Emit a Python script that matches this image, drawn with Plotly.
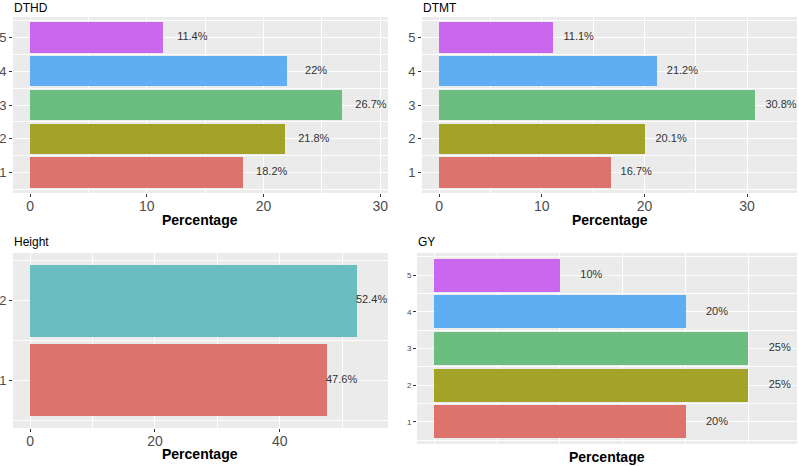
import plotly.graph_objects as go

# ---- data ----
dthd_levels = [1, 2, 3, 4, 5]
dthd_pct = [18.2, 21.8, 26.7, 22.0, 11.4]
dthd_labels = ["18.2%", "21.8%", "26.7%", "22%", "11.4%"]

dtmt_levels = [1, 2, 3, 4, 5]
dtmt_pct = [16.7, 20.1, 30.8, 21.2, 11.1]
dtmt_labels = ["16.7%", "20.1%", "30.8%", "21.2%", "11.1%"]

height_levels = [1, 2]
height_pct = [47.6, 52.4]
height_labels = ["47.6%", "52.4%"]

gy_levels = [1, 2, 3, 4, 5]
gy_pct = [20, 25, 25, 20, 10]
gy_labels = ["20%", "25%", "25%", "20%", "10%"]

x_ticks_dthd = [0, 10, 20, 30]
x_ticks_dtmt = [0, 10, 20, 30]
x_ticks_height = [0, 20, 40]

# ---- styles ----
W, H = 799, 466
five_cols = ["#DC736D", "#A3A327", "#6BBE80", "#5FADF2", "#C968EE"]
two_cols = ["#DC736D", "#6ABDC1"]
BG = "#EBEBEB"
TICK_COL = "#4D4D4D"
FONT = "Liberation Sans, Arial, sans-serif"


def px2x(p):
    return p / W


def px2y(p):
    return 1 - p / H


panels = [
    # name, levels, pct, labels, colors, xdomain px, ydomain px, xrange, yrange, xticks, nudge, dtick_minor, ytick size
    ("DTHD", dthd_levels, dthd_pct, dthd_labels, five_cols, (13, 388), (17, 193), [-1.46, 30.66], [0.4, 5.6], x_ticks_dthd, 2.5, 5, 13),
    ("DTMT", dtmt_levels, dtmt_pct, dtmt_labels, five_cols, (422, 797), (17, 193), [-1.66, 34.86], [0.4, 5.6], x_ticks_dtmt, 2.5, 5, 13),
    ("Height", height_levels, height_pct, height_labels, two_cols, (13, 388), (253, 428), [-2.73, 57.33], [0.4, 2.6], x_ticks_height, 2.3, 10, 13),
    ("GY", gy_levels, gy_pct, gy_labels, five_cols, (417, 797), (253, 444), [-1.375, 28.875], [0.4, 5.6], [0, 10, 20], 2.5, 5, 8),
]

title_y = {0: 8, 1: 8, 2: 242, 3: 242}
axis_title_y = {0: 220, 1: 220, 2: 454, 3: 457}

fig = go.Figure()
annotations = []

for i, (name, lev, pct, labs, cols, xd, yd, xr, yr, xt, nudge, mdt, ysz) in enumerate(panels):
    k = "" if i == 0 else str(i + 1)
    xa, ya = "x" + k, "y" + k
    fig.add_trace(go.Bar(
        x=pct, y=lev, orientation="h", width=0.9,
        marker=dict(color=cols, line=dict(width=0)),
        xaxis=xa, yaxis=ya, showlegend=False, hoverinfo="x+y",
    ))
    fig.add_trace(go.Scatter(
        x=[v + nudge for v in pct], y=lev, mode="text", text=labs,
        textposition="middle center", cliponaxis=False,
        textfont=dict(family=FONT, size=11, color="#333333"),
        xaxis=xa, yaxis=ya, showlegend=False, hoverinfo="skip",
    ))
    show_xlabels = name != "GY"
    xaxis = dict(
        domain=[px2x(xd[0]), px2x(xd[1])], range=xr, anchor=ya, automargin=False,
        tickmode="array", tickvals=xt, ticktext=[str(t) for t in xt],
        showticklabels=show_xlabels, ticklabelstandoff=-3,
        ticks="outside" if show_xlabels else "", ticklen=3, tickcolor="#333333", tickwidth=1,
        tickfont=dict(family=FONT, size=14, color=TICK_COL),
        showgrid=True, gridcolor="white", gridwidth=1.2,
        minor=dict(dtick=mdt, tick0=0, showgrid=True, gridcolor="white", gridwidth=0.5, ticks=""),
        zeroline=False, showline=False, fixedrange=True,
    )
    yaxis = dict(
        domain=[px2y(yd[1]), px2y(yd[0])], range=yr, anchor=xa, automargin=False,
        tickmode="array", tickvals=lev, ticktext=[str(v) for v in lev],
        ticks="outside", ticklen=3, tickcolor="#333333", tickwidth=1,
        tickfont=dict(family=FONT, size=ysz, color=TICK_COL),
        showgrid=True, gridcolor="white", gridwidth=1.2,
        minor=dict(dtick=1, tick0=0.5, showgrid=True, gridcolor="white", gridwidth=0.5, ticks=""),
        zeroline=False, showline=False, fixedrange=True,
    )
    fig.update_layout(**{"xaxis" + k: xaxis, "yaxis" + k: yaxis})
    # panel title
    annotations.append(dict(
        text=name, x=px2x(xd[0] - 1), y=px2y(title_y[i]), xref="paper", yref="paper",
        xanchor="left", yanchor="middle", showarrow=False,
        font=dict(family=FONT, size=12, color="black"),
    ))
    # axis title
    annotations.append(dict(
        text="<b>Percentage</b>", x=px2x((xd[0] + xd[1]) / 2), y=px2y(axis_title_y[i]),
        xref="paper", yref="paper", xanchor="center", yanchor="middle", showarrow=False,
        font=dict(family=FONT, size=14, color="black"),
    ))

fig.update_layout(
    width=W, height=H, margin=dict(l=0, r=0, t=0, b=0, autoexpand=False),
    paper_bgcolor="white", plot_bgcolor=BG,
    annotations=annotations, bargap=0,
    font=dict(family=FONT),
)

fig.write_html(
    "out.html",
    config={"displayModeBar": False},
    post_script="document.body.style.margin='0px';document.body.style.overflow='hidden';",
)
